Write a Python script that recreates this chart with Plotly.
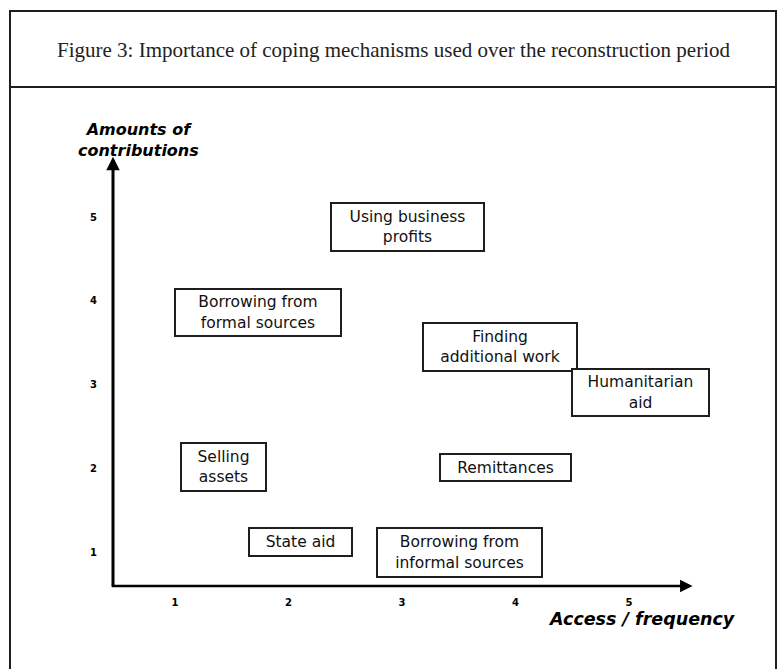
import plotly.graph_objects as go

# ---------------- data ----------------
mechanisms = [
    "Using business<br>profits",
    "Borrowing from<br>formal sources",
    "Selling<br>assets",
    "Finding<br>additional work",
    "Humanitarian<br>aid",
    "Remittances",
    "State aid",
    "Borrowing from<br>informal sources",
]
access_frequency = [3.05, 1.73, 1.43, 3.86, 5.10, 3.91, 2.11, 3.51]
amount_contrib = [4.88, 3.86, 2.01, 3.45, 2.90, 2.01, 1.12, 0.99]
tick_values = [1, 2, 3, 4, 5]
tick_labels = ["1", "2", "3", "4", "5"]

title_text = "Figure 3: Importance of coping mechanisms used over the reconstruction period"
x_title = "Access / frequency"
y_title = "Amounts of<br>contributions"

# ---------------- styling ----------------
W, H = 781, 669
ML, MR, MT, MB = 113, 21, 140, 83
box_sizes = [(151, 46), (164, 45), (83, 46), (152, 46), (135, 45), (129, 25), (101, 26), (163, 47)]
ink = "#1e1e1e"

X_RANGE = [0.4537, 6.1542]
Y_RANGE = [0.5940, 5.9194]
plot_w = W - ML - MR
plot_h = H - MT - MB


def px_to_paper_x(px):
    return (px - ML) / plot_w


def px_to_paper_y(py):
    return (H - MB - py) / plot_h


fig = go.Figure()
fig.add_trace(go.Scatter(
    x=access_frequency, y=amount_contrib, mode="markers",
    marker=dict(size=1, opacity=0), text=mechanisms, hoverinfo="text",
    showlegend=False,
))

annotations = []
# mechanism boxes
for name, xv, yv, (bw, bh) in zip(mechanisms, access_frequency, amount_contrib, box_sizes):
    annotations.append(dict(
        x=xv, y=yv, xref="x", yref="y", text=name, showarrow=False,
        font=dict(family="DejaVu Sans", size=15.5, color="#111"),
        align="center", valign="middle",
        width=bw, height=bh, bordercolor=ink, borderwidth=2, borderpad=0,
        bgcolor="white",
    ))

# axis arrows
annotations.append(dict(
    x=X_RANGE[0], y=5.72, ax=X_RANGE[0], ay=0.57, xref="x", yref="y", axref="x", ayref="y",
    text="", showarrow=True, arrowhead=2, arrowsize=0.9, arrowwidth=3, arrowcolor="#000",
))
annotations.append(dict(
    x=5.56, y=Y_RANGE[0], ax=0.43, ay=Y_RANGE[0], xref="x", yref="y", axref="x", ayref="y",
    text="", showarrow=True, arrowhead=2, arrowsize=1.0, arrowwidth=2.5, arrowcolor="#000",
))

# axis titles
annotations.append(dict(
    x=px_to_paper_x(642), y=px_to_paper_y(619), xref="paper", yref="paper",
    text=x_title, showarrow=False, xanchor="center", yanchor="middle",
    font=dict(family="DejaVu Sans", size=17.5, color="#000", weight="bold", style="italic"),
))
annotations.append(dict(
    x=px_to_paper_x(138), y=px_to_paper_y(140), xref="paper", yref="paper",
    text=y_title, showarrow=False, xanchor="center", yanchor="middle", align="center",
    font=dict(family="DejaVu Sans", size=16, color="#000", weight="bold", style="italic"),
))

# figure title
annotations.append(dict(
    x=px_to_paper_x(393), y=px_to_paper_y(50), xref="paper", yref="paper",
    text=title_text, showarrow=False, xanchor="center", yanchor="middle",
    font=dict(family="Liberation Serif", size=21, color="#222"),
))

shapes = [
    dict(type="rect", xref="paper", yref="paper",
         x0=px_to_paper_x(10), x1=px_to_paper_x(776),
         y0=px_to_paper_y(675), y1=px_to_paper_y(11),
         line=dict(color=ink, width=2)),
    dict(type="line", xref="paper", yref="paper",
         x0=px_to_paper_x(10), x1=px_to_paper_x(776),
         y0=px_to_paper_y(87), y1=px_to_paper_y(87),
         line=dict(color=ink, width=2)),
]

fig.update_layout(
    width=W, height=H,
    margin=dict(l=ML, r=MR, t=MT, b=MB, pad=0),
    paper_bgcolor="white", plot_bgcolor="white",
    annotations=annotations, shapes=shapes,
    showlegend=False,
    xaxis=dict(range=X_RANGE, showgrid=False, zeroline=False, showline=False,
               tickmode="array", tickvals=tick_values, ticktext=tick_labels,
               ticks="", ticklabelstandoff=9,
               tickfont=dict(family="DejaVu Sans", size=10, color="#000", weight="bold")),
    yaxis=dict(range=Y_RANGE, showgrid=False, zeroline=False, showline=False,
               tickmode="array", tickvals=tick_values, ticktext=tick_labels,
               ticks="", ticklabelstandoff=15,
               tickfont=dict(family="DejaVu Sans", size=10, color="#000", weight="bold")),
)

fig.write_html("out.html", config={"displayModeBar": False},
               post_script="document.body.style.margin='0px';")
